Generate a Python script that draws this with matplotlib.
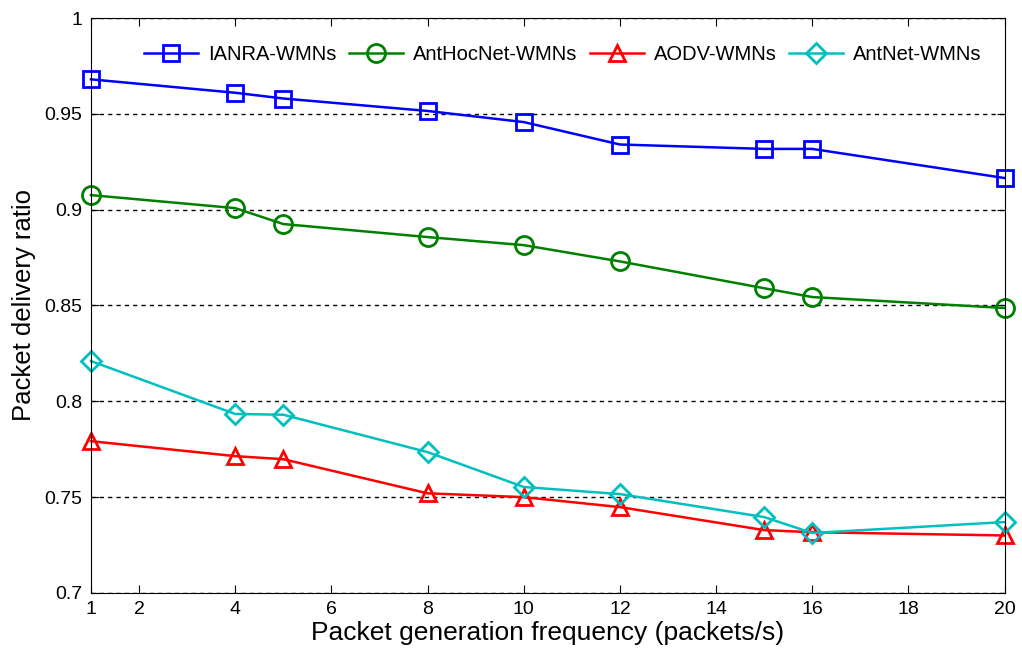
import matplotlib
matplotlib.use('Agg')
import matplotlib.pyplot as plt

plt.rcParams['font.family'] = ['Liberation Sans', 'DejaVu Sans']

# packet generation frequency (packets/s)
freq = [1, 4, 5, 8, 10, 12, 15, 16, 20]

ianra = [0.968, 0.961, 0.958, 0.9515, 0.9457, 0.934, 0.9317, 0.9317, 0.9165]
anthocnet = [0.9076, 0.9008, 0.8925, 0.8857, 0.8815, 0.873, 0.859, 0.8544, 0.8487]
aodv = [0.7792, 0.7714, 0.7698, 0.752, 0.75, 0.7448, 0.7328, 0.7317, 0.730]
antnet = [0.821, 0.7934, 0.793, 0.7735, 0.7553, 0.7516, 0.7396, 0.7313, 0.737]

xticks = [1, 2, 4, 6, 8, 10, 12, 14, 16, 18, 20]
yticks = [0.7, 0.75, 0.8, 0.85, 0.9, 0.95, 1]
ytick_labels = ['0.7', '0.75', '0.8', '0.85', '0.9', '0.95', '1']

fig = plt.figure(figsize=(10.22, 6.55), dpi=100)
ax = fig.add_axes([0.089, 0.0947, 0.894, 0.8778])

style = dict(linewidth=1.8, markerfacecolor='none', markeredgewidth=2, clip_on=False)
ax.plot(freq, ianra, '-s', color='#0000ff', markersize=12, label='IANRA-WMNs', **style)
ax.plot(freq, anthocnet, '-o', color='#008000', markersize=13, label='AntHocNet-WMNs', **style)
ax.plot(freq, aodv, '-^', color='#ff0000', markersize=12, label='AODV-WMNs', **style)
ax.plot(freq, antnet, '-D', color='#00bfbf', markersize=10, label='AntNet-WMNs', **style)

ax.set_xlim(1, 20)
ax.set_ylim(0.7, 1)
ax.set_xticks(xticks)
ax.set_yticks(yticks)
ax.set_yticklabels(ytick_labels)
ax.tick_params(direction='in', top=True, right=True, labelsize=14, length=6, pad=6)
ax.yaxis.grid(True, linestyle=(0, (3, 3)), color='black', linewidth=1)
ax.set_axisbelow(True)

ax.set_xlabel('Packet generation frequency (packets/s)', fontsize=19, labelpad=2)
ax.set_ylabel('Packet delivery ratio', fontsize=18.5, labelpad=6)

ax.legend(loc='upper right', ncol=4, frameon=False, fontsize=14.5,
          handlelength=2.7, columnspacing=0.6, handletextpad=0.5,
          bbox_to_anchor=(0.995, 0.985))

fig.savefig('out.png', dpi=100)
